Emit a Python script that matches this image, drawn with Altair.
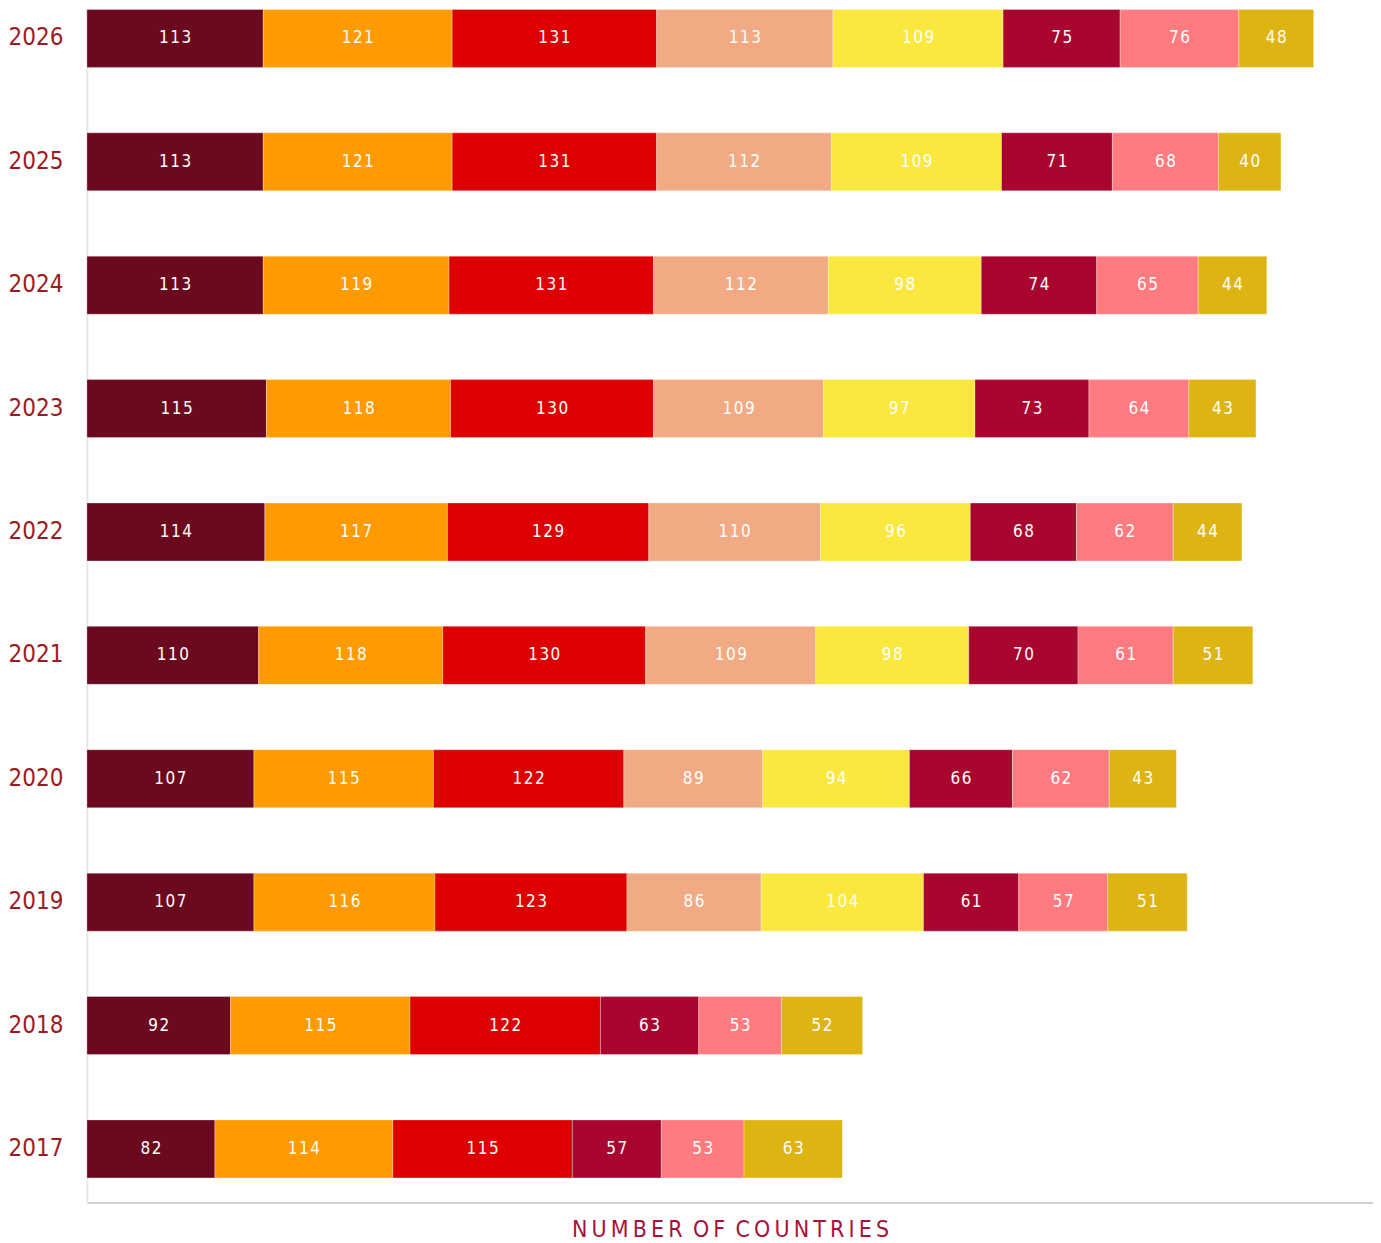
import altair as alt
import pandas as pd

years = ["2026", "2025", "2024", "2023", "2022", "2021", "2020", "2019", "2018", "2017"]
series = ["S1", "S2", "S3", "S4", "S5", "S6", "S7", "S8"]
colors = ["#6B0A1F", "#FF9A00", "#DC0000", "#F2AA84", "#FAE83E", "#A8052F", "#FF7B7F", "#DEB413"]

s1 = [113, 113, 113, 115, 114, 110, 107, 107, 92, 82]
s2 = [121, 121, 119, 118, 117, 118, 115, 116, 115, 114]
s3 = [131, 131, 131, 130, 129, 130, 122, 123, 122, 115]
s4 = [113, 112, 112, 109, 110, 109, 89, 86, None, None]
s5 = [109, 109, 98, 97, 96, 98, 94, 104, None, None]
s6 = [75, 71, 74, 73, 68, 70, 66, 61, 63, 57]
s7 = [76, 68, 65, 64, 62, 61, 62, 57, 53, 53]
s8 = [48, 40, 44, 43, 44, 51, 43, 51, 52, 63]

cols = [s1, s2, s3, s4, s5, s6, s7, s8]
rows = []
for si, (name, vals) in enumerate(zip(series, cols)):
    for y, v in zip(years, vals):
        if v is None:
            continue
        rows.append({"year": y, "series": name, "idx": si, "value": v,
                     "label": "\u200a".join(str(v))})
df = pd.DataFrame(rows)

FONT = "DejaVu Sans Condensed, sans-serif"

yscale = alt.Scale(domain=years, paddingInner=0.53, paddingOuter=0.1, align=0)
xscale = alt.Scale(domain=[0, 824], nice=False, zero=True)

base = alt.Chart(df).transform_stack(
    stack="value", groupby=["year"], as_=["x0", "x1"],
    sort=[alt.SortField("idx", order="ascending")]
)

bars = base.mark_bar(stroke="#ffffff", strokeWidth=0.6, strokeOpacity=0.5).encode(
    y=alt.Y("year:N", scale=yscale, sort=years,
            axis=alt.Axis(title=None, ticks=False, labelFontSize=24, labelColor="#9B1B22",
                          labelFont=FONT, labelFontWeight="normal", labelPadding=24,
                          minExtent=77, maxExtent=77,
                          domainColor="#e6e6e6", domainWidth=2, grid=False)),
    x=alt.X("x0:Q", scale=xscale,
            axis=alt.Axis(title="N\u2009U\u2009M\u2009B\u2009E\u2009R\u2002O\u2009F\u2002C\u2009O\u2009U\u2009N\u2009T\u2009R\u2009I\u2009E\u2009S",
                          labels=False, ticks=False, grid=False,
                          domainColor="#d0d0d0", domainWidth=2,
                          titleFont=FONT, titleFontSize=23, titleFontWeight="normal",
                          titleColor="#A8123A", titlePadding=16)),
    x2="x1:Q",
    color=alt.Color("series:N", scale=alt.Scale(domain=series, range=colors), legend=None),
)

texts = base.transform_calculate(mid="(datum.x0 + datum.x1) / 2").mark_text(
    color="white", fontSize=17, font=FONT, baseline="middle", align="center"
).encode(
    y=alt.Y("year:N", scale=yscale, sort=years),
    x=alt.X("mid:Q", scale=xscale),
    text="label:N",
)

chart = alt.layer(bars, texts).properties(
    width=1287, height=1194, padding=0, background="white"
).configure_view(
    strokeWidth=0
)

chart.save("out.html", embed_options={"renderer": "svg", "actions": False})
